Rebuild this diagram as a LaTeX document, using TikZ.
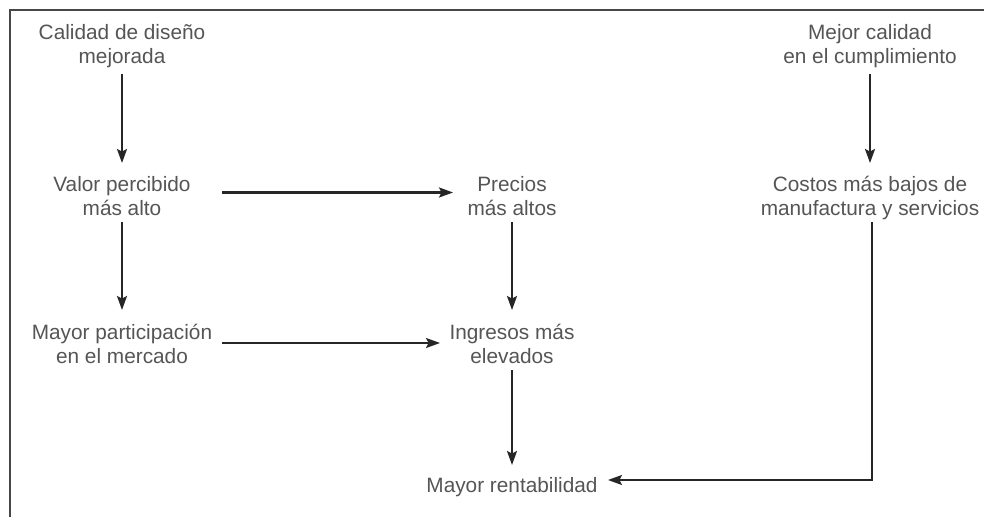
\documentclass[tikz,border=0pt]{standalone}
\usepackage{fontspec}
\setmainfont{Liberation Sans}
\usetikzlibrary{arrows.meta}
\definecolor{txtgray}{HTML}{555555}
\definecolor{linegray}{HTML}{262626}
\tikzset{
  lbl/.style={inner sep=0pt, align=center, text=txtgray,
    font=\fontsize{10.4pt}{12pt}\selectfont},
  arr/.style={draw=linegray, line width=1.1pt,
    -{Stealth[length=7pt,width=5pt,inset=1.3pt]}},
  frame/.style={draw=linegray!85, line width=1pt}
}
\begin{document}
\begin{tikzpicture}[x=0.5pt,y=-0.5pt]
\useasboundingbox (0,0) rectangle (984,517);
\draw[frame] (9.5,517) -- (9.5,10.5) -- (984,10.5);

\node[lbl] (c1) at (122,46)  {Calidad de diseño\\mejorada};
\node[lbl] (v)  at (122,196.5) {Valor percibido\\más alto};
\node[lbl] (mp) at (122,344) {Mayor participación\\en el mercado};
\node[lbl] (p)  at (512,196.5) {Precios\\más altos};
\node[lbl] (i)  at (512,344) {Ingresos más\\elevados};
\node[lbl] (r)  at (512,487) {Mayor rentabilidad};
\node[lbl] (m)  at (870,46)  {Mejor calidad\\en el cumplimiento};
\node[lbl] (cs) at (870,198) {Costos más bajos de\\manufactura y servicios};

\draw[arr, shorten <=14pt, shorten >=16.75pt] (c1.center) -- (v.center);
\draw[arr, shorten <=12.75pt, shorten >=17pt] (v.center) -- (mp.center);
\draw[arr, shorten <=12.75pt, shorten >=17pt] (p.center) -- (i.center);
\draw[arr, shorten <=13pt, shorten >=11pt] (i.center) -- (r.center);
\draw[arr, shorten <=14pt, shorten >=17.5pt] (m.center) -- (cs.center);

\draw[arr, shorten <=50pt, shorten >=29.5pt] ([yshift=2pt]v.center) -- ([yshift=2pt]p.center);
\draw[arr, shorten <=50pt, shorten >=36pt] ([yshift=0.5pt]mp.center) -- ([yshift=0.5pt]i.center);

\draw[arr, shorten <=12pt, shorten >=48pt] ([xshift=1pt]cs.center) |- ([yshift=3.5pt]r.center);
\end{tikzpicture}
\end{document}
